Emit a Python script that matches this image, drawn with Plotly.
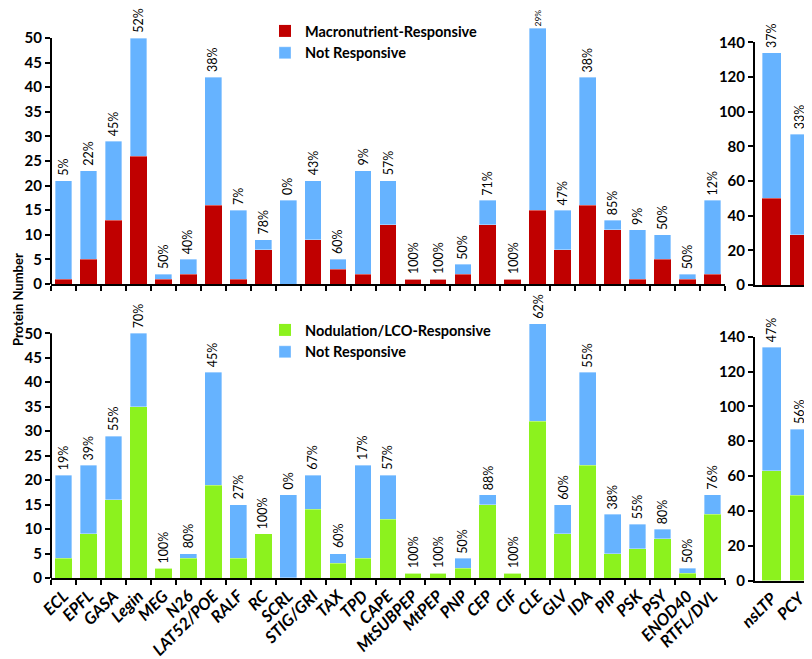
import plotly.graph_objects as go

# ---------------- data ----------------
families = ["ECL", "EPFL", "GASA", "Legin", "MEG", "N26", "LAT52/POE", "RALF", "RC", "SCRL",
            "STIG/GRI", "TAX", "TPD", "CAPE", "MtSUBPEP", "MtPEP", "PNP", "CEP", "CIF", "CLE",
            "GLV", "IDA", "PIP", "PSK", "PSY", "ENOD40", "RTFL/DVL"]
totals = [21, 23, 29, 50, 2, 5, 42, 15, 9, 17,
          21, 5, 23, 21, 1, 1, 4, 17, 1, 52,
          15, 42, 13, 11, 10, 2, 17]
macro_resp = [1, 5, 13, 26, 1, 2, 16, 1, 7, 0,
              9, 3, 2, 12, 1, 1, 2, 12, 1, 15,
              7, 16, 11, 1, 5, 1, 2]
nod_resp = [4, 9, 16, 35, 2, 4, 19, 4, 9, 0,
            14, 3, 4, 12, 1, 1, 2, 15, 1, 32,
            9, 23, 5, 6, 8, 1, 13]
macro_pct = ["5%", "22%", "45%", "52%", "50%", "40%", "38%", "7%", "78%", "0%",
             "43%", "60%", "9%", "57%", "100%", "100%", "50%", "71%", "100%", "29%",
             "47%", "38%", "85%", "9%", "50%", "50%", "12%"]
nod_pct = ["19%", "39%", "55%", "70%", "100%", "80%", "45%", "27%", "100%", "0%",
           "67%", "60%", "17%", "57%", "100%", "100%", "50%", "88%", "100%", "62%",
           "60%", "55%", "38%", "55%", "80%", "50%", "76%"]

big_families = ["nsLTP", "PCY"]
big_totals = [134, 87]
big_macro_resp = [50, 29]
big_nod_resp = [63, 49]
big_macro_pct = ["37%", "33%"]
big_nod_pct = ["47%", "56%"]

left_ticks = [0, 5, 10, 15, 20, 25, 30, 35, 40, 45, 50]
right_ticks = [0, 20, 40, 60, 80, 100, 120, 140]

# ---------------- style ----------------
RED = "#C00000"
BLUE = "#66B3FF"
GREEN = "#8CF21E"
FONT = "Lato"
PAGE_W, PAGE_H = 812, 659
OFF = 8  # page body margin
W, H = PAGE_W - OFF, PAGE_H - OFF


def fx(p):
    return (p - OFF) / W


def fy(p):
    return 1 - (p - OFF) / H


fig = go.Figure()


def add_stack(xs, resp, tot, color, name, xa, ya, show, legend):
    notr = [t - r for t, r in zip(tot, resp)]
    fig.add_trace(go.Bar(x=xs, y=resp, marker=dict(color=color, line=dict(width=0)),
                         name=name, xaxis=xa, yaxis=ya, showlegend=show, legend=legend))
    fig.add_trace(go.Bar(x=xs, y=notr, marker=dict(color=BLUE, line=dict(color="rgba(255,255,255,0.6)", width=0.6)),
                         name="Not Responsive", xaxis=xa, yaxis=ya, showlegend=show, legend=legend))


add_stack(families, macro_resp, totals, RED, "Macronutrient-Responsive", "x", "y", True, "legend")
add_stack(big_families, big_macro_resp, big_totals, RED, "Macronutrient-Responsive", "x2", "y2", False, "legend")
add_stack(families, nod_resp, totals, GREEN, "Nodulation/LCO-Responsive", "x3", "y3", True, "legend2")
add_stack(big_families, big_nod_resp, big_totals, GREEN, "Nodulation/LCO-Responsive", "x4", "y4", False, "legend2")

# pixel geometry (page pixels)
TL0, TL50 = 284, 38
BL0, BL50 = 578, 333.3
TOP_MAX = 53
tl_unit = (TL0 - TL50) / 50
bl_unit = (BL0 - BL50) / 50

annotations = []


def add_pcts(xs, tot, labels, xa, ya, base_px=None, unit_px=None):
    for xv, t, lab in zip(xs, tot, labels):
        size, shift = 12.5, 3
        if base_px is not None:
            top_px = base_px - t * unit_px
            room = top_px - OFF
            if room < 27:  # keep the label inside the page
                shift = 0
                size = min(12.5, (room - 2) / 2.15)
        annotations.append(dict(x=xv, y=t, xref=xa, yref=ya, text=lab, showarrow=False,
                                textangle=-90, xanchor="center", yanchor="bottom", yshift=shift,
                                font=dict(family=FONT, size=size, color="black")))


add_pcts(families, totals, macro_pct, "x", "y", TL0, tl_unit)
add_pcts(big_families, big_totals, big_macro_pct, "x2", "y2")
add_pcts(families, totals, nod_pct, "x3", "y3")
add_pcts(big_families, big_totals, big_nod_pct, "x4", "y4")

annotations.append(dict(x=0, y=fy(300), xref="paper", yref="paper", text="<b>Protein Number</b>",
                        showarrow=False, textangle=-90, xanchor="left",
                        font=dict(family=FONT, size=13, color="black")))

tickfont = dict(family=FONT, size=15, color="black", weight="bold")
xtickfont = dict(family=FONT, size=16.5, color="black", weight="bold", style="italic")

common_x = dict(type="category", showline=True, linecolor="black", linewidth=2,
                showgrid=False, zeroline=False, fixedrange=True, automargin=False)
common_y = dict(showgrid=False, zeroline=False, ticks="outside", ticklen=5, tickwidth=2,
                tickcolor="black", tickfont=tickfont, fixedrange=True, automargin=False)

fig.update_layout(
    width=W, height=H,
    margin=dict(l=0, r=0, t=0, b=0, autoexpand=False),
    paper_bgcolor="white", plot_bgcolor="white",
    barmode="stack", bargap=0.33,
    xaxis=dict(**common_x, domain=[fx(51), fx(725)], anchor="y", categoryorder="array",
               categoryarray=families, tickson="boundaries", ticks="outside", ticklen=5,
               tickwidth=2, tickcolor="black", showticklabels=False),
    yaxis=dict(**common_y, domain=[fy(TL0), fy(TL0 - TOP_MAX * tl_unit)], anchor="x",
               range=[0, TOP_MAX], tickvals=left_ticks, showline=False),
    xaxis2=dict(**common_x, domain=[fx(755), 1.0], anchor="y2", range=[-0.6, 1.45],
                showticklabels=False),
    yaxis2=dict(**common_y, domain=[fy(285), fy(42.3)], anchor="x2", range=[0, 140],
                tickvals=right_ticks, showline=True, linecolor="black", linewidth=2),
    xaxis3=dict(**common_x, domain=[fx(51), fx(725)], anchor="y3", categoryorder="array",
                categoryarray=families, tickson="boundaries", ticks="outside", ticklen=5,
                tickwidth=2, tickcolor="black", tickangle=-45, tickfont=xtickfont),
    yaxis3=dict(**common_y, domain=[fy(BL0), fy(BL0 - TOP_MAX * bl_unit)], anchor="x3",
                range=[0, TOP_MAX], tickvals=left_ticks, showline=False),
    xaxis4=dict(**common_x, domain=[fx(755), 1.0], anchor="y4", range=[-0.6, 1.45],
                tickangle=-45, tickfont=xtickfont),
    yaxis4=dict(**common_y, domain=[fy(580.5), fy(336.7)], anchor="x4", range=[0, 140],
                tickvals=right_ticks, showline=True, linecolor="black", linewidth=2),
    legend=dict(x=fx(265), y=fy(15), xanchor="left", yanchor="top", traceorder="normal",
                bgcolor="rgba(0,0,0,0)", font=dict(family=FONT, size=14.5, color="black", weight="bold"),
                itemwidth=30, tracegroupgap=0),
    legend2=dict(x=fx(265), y=fy(314), xanchor="left", yanchor="top", traceorder="normal",
                 bgcolor="rgba(0,0,0,0)", font=dict(family=FONT, size=14.5, color="black", weight="bold"),
                 itemwidth=30, tracegroupgap=0),
    annotations=annotations,
    shapes=[
        dict(type="line", xref="x domain", yref="y", x0=0, x1=0, y0=0, y1=50,
             line=dict(color="black", width=2)),
        dict(type="line", xref="x3 domain", yref="y3", x0=0, x1=0, y0=0, y1=50,
             line=dict(color="black", width=2)),
    ],
)

fig.write_html("out.html")
